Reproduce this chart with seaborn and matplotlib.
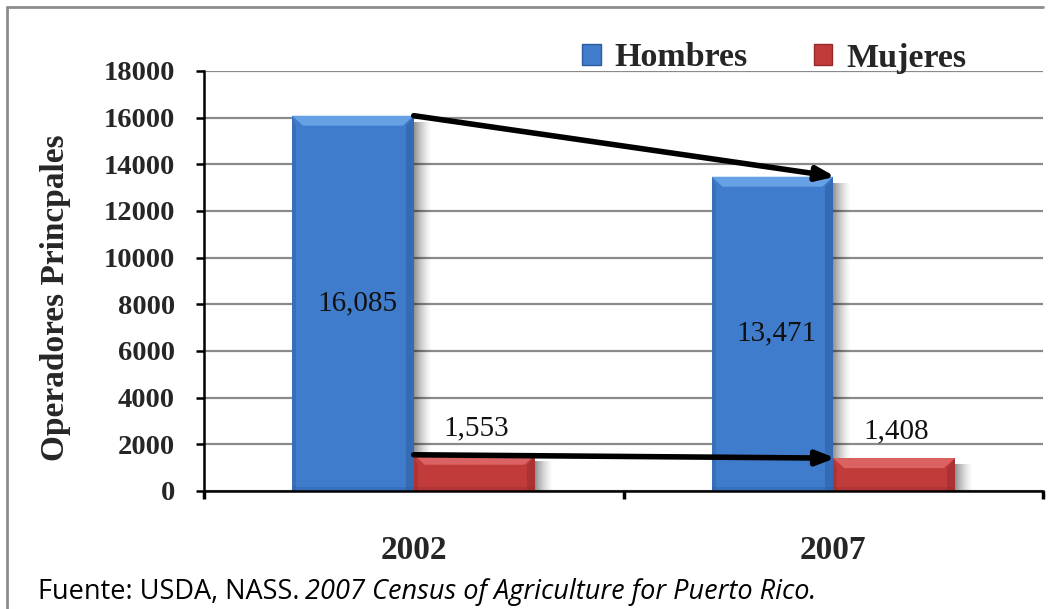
import numpy as np
import pandas as pd
import matplotlib
matplotlib.use("Agg")
import matplotlib.pyplot as plt
from matplotlib.patches import Patch, Polygon, Rectangle
from matplotlib.lines import Line2D
import seaborn as sns

# Principal farm operators by sex, Puerto Rico census years
years = ["2002", "2007"]
hombres = [16085, 13471]
mujeres = [1553, 1408]
series_names = ["Hombres", "Mujeres"]
y_ticks = [0, 2000, 4000, 6000, 8000, 10000, 12000, 14000, 16000, 18000]
value_labels_h = ["16,085", "13,471"]
value_labels_m = ["1,553", "1,408"]

colors = {"Hombres": "#3f7ccb", "Mujeres": "#c23b3b"}
light = {"Hombres": "#6da8ea", "Mujeres": "#e06a6a"}
dark = {"Hombres": "#2c5c9e", "Mujeres": "#962a2a"}

df = pd.DataFrame({
    "year": years * 2,
    "value": hombres + mujeres,
    "sexo": [series_names[0]] * len(years) + [series_names[1]] * len(years),
})

sns.set_theme(style="white")
serif = ["Liberation Serif", "DejaVu Serif"]

W, H = 1053, 609
fig = plt.figure(figsize=(W / 100, H / 100), dpi=100)
ax = fig.add_axes([204 / W, 1 - 491 / H, (1043 - 204) / W, (491 - 71) / H])

sns.barplot(data=df, x="year", y="value", hue="sexo", order=years,
            hue_order=series_names, palette=colors, width=0.58,
            saturation=1, ax=ax, legend=False, edgecolor="none")

ax.set_xlim(-0.5, 1.5)
ax.set_ylim(0, 18000)
ax.set_yticks(y_ticks)
ax.yaxis.grid(True, color="#8a8a8a", lw=1.6, zorder=0)
ax.set_axisbelow(True)

# Soft drop shadow + bevel on every bar
px_x = 2.0 / (1043 - 204)          # data units per pixel (x)
px_y = 18000.0 / (491 - 71)        # data units per pixel (y)
for cont, name in zip(ax.containers, series_names):
    for bar in cont:
        bar.set_zorder(3)
        x0 = bar.get_x()
        w = bar.get_width()
        h = bar.get_height()
        x1 = x0 + w
        nstrip = 18
        for i in range(nstrip):
            a = 0.42 * (1 - i / nstrip) ** 1.5
            ax.add_patch(Rectangle((x1 + i * px_x, 0), px_x * 1.05, h - 6 * px_y,
                                   facecolor="black", alpha=a, lw=0, zorder=2))
        d = 11 * px_x
        dy = 10 * px_y
        if h < 2.5 * dy:
            dy = h * 0.3
        ax.add_patch(Polygon([(x0, h), (x1, h), (x1 - d, h - dy), (x0 + d, h - dy)],
                             closed=True, facecolor=light[name], alpha=0.85, lw=0,
                             zorder=4))
        ax.add_patch(Polygon([(x1, h), (x1, 0), (x1 - 8 * px_x, 0), (x1 - 8 * px_x, h - dy)],
                             closed=True, facecolor=dark[name], alpha=0.5, lw=0, zorder=4))
        ax.add_patch(Polygon([(x0, h), (x0, 0), (x0 + 4 * px_x, 0), (x0 + 4 * px_x, h - dy)],
                             closed=True, facecolor=dark[name], alpha=0.4, lw=0, zorder=4))
        ax.add_patch(Rectangle((x0, 0), w, 4 * px_y, facecolor=dark[name],
                               alpha=0.35, lw=0, zorder=4))

# Value labels
h_bars = list(ax.containers[0])
m_bars = list(ax.containers[1])
for bar, val, txt in zip(h_bars, hombres, value_labels_h):
    ax.text(bar.get_x() + bar.get_width() / 2 + 0.01, val / 2, txt, ha="center",
            va="center", fontsize=21, family=serif, color="#111111", zorder=6)
for bar, val, txt in zip(m_bars, mujeres, value_labels_m):
    ax.text(bar.get_x() + bar.get_width() / 2 + 0.005, val + 1150, txt, ha="center",
            va="center", fontsize=21, family=serif, color="#111111", zorder=6)

# Trend arrows between census years
ax.annotate("", xy=(h_bars[1].get_x() + h_bars[1].get_width() + 0.005, hombres[1]),
            xytext=(h_bars[0].get_x() + h_bars[0].get_width(), hombres[0]),
            arrowprops=dict(arrowstyle="-|>,head_length=0.9,head_width=0.35",
                            color="black", lw=4, shrinkA=0, shrinkB=0),
            zorder=7, annotation_clip=False)
ax.annotate("", xy=(m_bars[1].get_x() + 0.005, mujeres[1]),
            xytext=(m_bars[0].get_x(), mujeres[0]),
            arrowprops=dict(arrowstyle="-|>,head_length=0.9,head_width=0.35",
                            color="black", lw=4, shrinkA=0, shrinkB=0),
            zorder=7, annotation_clip=False)

# Axes styling
for s in ["top", "right"]:
    ax.spines[s].set_visible(False)
for s in ["left", "bottom"]:
    ax.spines[s].set_color("black")
    ax.spines[s].set_linewidth(1.8)
    ax.spines[s].set_zorder(5)

ax.set_yticklabels([str(t) for t in y_ticks], fontsize=20.5, fontweight="bold",
                   family=serif)
ax.tick_params(axis="y", which="major", direction="out", length=6, width=1.8,
               color="black", left=True, pad=15)
ax.set_xticks([0, 1])
ax.set_xticklabels(years, fontsize=24, fontweight="bold", family=serif)
ax.tick_params(axis="x", which="major", length=0, pad=32)
ax.set_xticks([-0.5, 0.5, 1.5], minor=True)
ax.tick_params(axis="x", which="minor", direction="out", length=6, width=2.5,
               color="black", bottom=True)
ax.set_xlabel("")
ax.set_ylabel("Operadores Princpales", fontsize=24, fontweight="bold",
              family=serif)
ax.yaxis.set_label_coords(-0.158, 0.461)

# Legend above the plot area
handles = [Patch(facecolor=colors[n], edgecolor=dark[n], lw=1) for n in series_names]
leg = fig.legend(handles, series_names, loc="center",
                 bbox_to_anchor=(774 / W, 1 - 58 / H), ncol=2, frameon=False,
                 handlelength=0.55, handleheight=0.55, handletextpad=0.4,
                 columnspacing=1.95,
                 prop=dict(family=serif, weight="bold", size=24.5))

# Outer frame
fig.add_artist(Line2D([7 / W, 7 / W], [0, 1 - 7 / H], transform=fig.transFigure,
                      color="#8c8c8c", lw=2))
fig.add_artist(Line2D([7 / W, 1043 / W], [1 - 7 / H, 1 - 7 / H],
                      transform=fig.transFigure, color="#8c8c8c", lw=2))

# Source note
fig.text(38 / W, 1 - 592 / H, "Fuente: USDA, NASS.", fontsize=19.5,
         family="Open Sans", va="center", ha="left", color="black")
fig.text(305 / W, 1 - 592 / H, "2007 Census of Agriculture for Puerto Rico.",
         fontsize=19.5, family="Open Sans", style="italic", va="center", ha="left",
         color="black")

fig.savefig("out.png", dpi=100, facecolor="white")
